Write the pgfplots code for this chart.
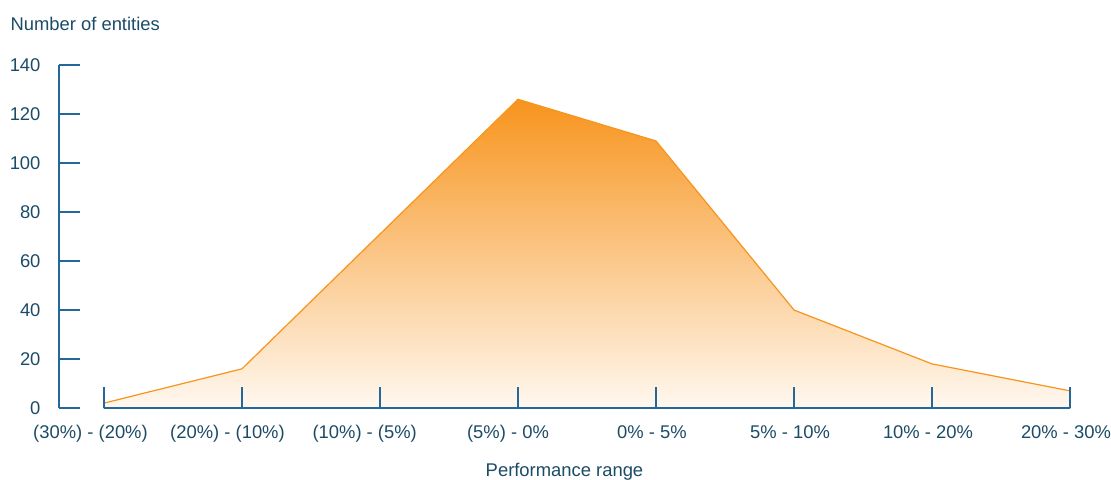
\documentclass[border=0pt]{standalone}
\usepackage{fontspec}
\setmainfont{Liberation Sans}
\usepackage{pgfplots}
\pgfplotsset{compat=1.18}
\definecolor{txt}{HTML}{1B4B66}
\definecolor{axblue}{HTML}{24679A}
\definecolor{orng}{HTML}{F7941D}
\definecolor{orngpale}{HTML}{FFF8F0}
\begin{document}
\fontsize{9.2}{11}\selectfont
\begin{tikzpicture}
\begin{axis}[
  name=ax, at={(0,0)}, anchor=south west,
  scale only axis, width=505.5pt, height=171.5pt,
  xmin=-0.3261, xmax=7, ymin=0, ymax=140,
  axis on top,
  axis x line*=bottom, axis y line*=left,
  x axis line style={draw=none},
  y axis line style={axblue, line width=0.8pt},
  xtick={0,...,7},
  xticklabels={(30\%) - (20\%)\hspace*{9.5pt},(20\%) - (10\%)\hspace*{10.5pt},(10\%) - (5\%)\hspace*{11.3pt},(5\%) - 0\%\hspace*{6pt},0\% - 5\%,5\% - 10\%,10\% - 20\%,20\% - 30\%},
  ytick={0,20,...,140},
  tick align=inside, major tick length=10.5pt,
  tick style={axblue, line width=0.8pt},
  tick label style={text=txt, font=\fontsize{9.2}{11}\selectfont},
  xticklabel style={yshift=-5.5pt, xshift=-2pt},
  yticklabel style={xshift=-6pt},
  /pgf/number format/assume math mode=true,
  xlabel={Performance range},
  xlabel style={at={(axis description cs:0.5,0)}, anchor=base, yshift=-34pt, text=txt},
  title={Number of entities},
  title style={at={(axis description cs:0,1)}, anchor=base west, xshift=-27.5pt, yshift=11.5pt, text=txt},
  clip=false,
]
% distribution of entities across performance ranges
\addplot[draw=orng, line width=0.6pt, top color=orng, bottom color=orngpale]
  coordinates {(0,2) (1,16) (2,71) (3,126) (4,109) (5,40) (6,18) (7,7)} \closedcycle;
% baseline under the categories
\addplot[axblue, line width=1pt, forget plot] coordinates {(0,0) (7,0)};
\end{axis}
\pgfresetboundingbox
\useasboundingbox (ax.south west) ++(-29.5pt,-35.5pt) rectangle ++(555.5pt,239.5pt);
\end{tikzpicture}
\end{document}
